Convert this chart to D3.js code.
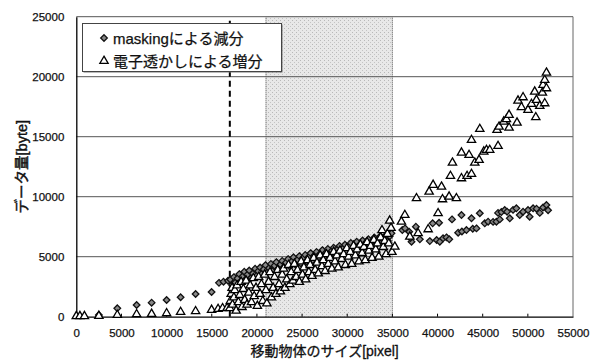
<!DOCTYPE html>
<html><head><meta charset="utf-8">
<script src="https://cdn.jsdelivr.net/npm/d3@7/dist/d3.min.js"></script>
<style>
html,body{margin:0;padding:0;background:#fff;}
svg text{font-family:"Liberation Sans","Noto Sans CJK JP",sans-serif;fill:#111;}
</style></head>
<body><svg id="c" width="591" height="362"></svg>
<script>
const xTicks = [0,5000,10000,15000,20000,25000,30000,35000,40000,45000,50000,55000];
const yTicks = [0,5000,10000,15000,20000,25000];
const seriesNames = ["maskingによる減分","電子透かしによる増分"];
const xTitle = "移動物体のサイズ[pixel]";
const yTitle = "データ量[byte]";
const dashedX = 17000;
const bandRange = [21000,35000];

// masking reduction (diamonds): size [pixel]
const maskingX = [2500,4540,6680,8340,10000,11550,13210,14980,15800,16300,16800,
17050,17250,17450,17600,17850,18050,18150,18400,18600,18750,18950,19150,19400,19550,19800,19950,
20150,20350,20500,20750,20950,21150,21350,21550,21700,21950,22150,22350,22600,22800,22950,
23200,23450,23600,23850,24050,24250,24500,24700,24850,25100,25350,25500,25750,25950,
26150,26400,26600,26750,27000,27250,27400,27650,27850,28050,28300,28500,28650,28900,
29150,29300,29550,29750,29950,30200,30400,30550,30800,31050,31200,31450,31700,31850,
32100,32350,32500,32750,33000,33150,33400,33650,33800,34050,34300,34500,34700,
34900,36100,36400,36860,37120,37000,37600,38040,39140,39460,39900,40170,40250,40610,40990,41300,41600,
42280,42650,42700,43200,43760,43900,44310,44680,45230,45600,46150,46520,46700,46890,47070,47440,47700,
48000,48360,48730,49100,49470,50020,50200,50580,50960,51320,51680,52060,52240];
// masking reduction (diamonds): bytes
const maskingY = [150,700,975,1170,1390,1620,1890,2060,2820,2920,3000,
3100,2650,3300,2850,3200,3550,2900,3350,3750,3100,3500,3850,3250,3600,4000,3400,
3800,4100,3550,3950,4300,3700,4050,4400,3800,4250,4550,3950,4350,4650,4100,
4500,4800,4200,4600,4950,4350,4750,5050,4450,4900,5150,4600,5000,5300,
4700,5150,5400,4850,5250,5550,4950,5350,5650,5050,5500,5750,5200,5600,
5900,5300,5700,6000,5400,5850,6150,5550,5950,6250,5650,6050,6350,5800,
6200,6450,5900,6300,6600,6000,6450,6700,6150,6550,6800,6300,6700,
6950,7220,7360,7080,6250,6560,7500,6450,6300,7780,6390,7830,6250,6530,6610,6450,8110,
7000,8470,7100,7220,8200,7330,7360,8620,7780,7920,7900,7920,8650,8110,8720,8890,8750,
8200,8900,9030,8470,8750,8890,8330,9030,9000,8650,9100,9310,8870];

// watermark increase (triangles): size [pixel]
const watermarkX = [0,400,900,2500,4540,6680,8340,10000,11550,13210,14980,15700,16200,16700,
17000,17050,17150,17250,17300,17450,17550,17700,17800,17950,18100,18250,18350,18500,18650,18800,
18900,19100,19250,19400,19600,19700,19900,20050,20200,20350,20500,20650,20850,21000,21100,21300,
21450,21600,21800,21950,22100,22300,22450,22600,22800,22950,23100,23300,23500,23650,23800,24000,
24150,24350,24500,24700,24900,25050,25200,25400,25600,25750,25900,26100,26300,26450,26650,26800,
27000,27200,27350,27550,27700,27900,28100,28300,28500,28650,28850,29000,29200,29400,29600,29800,
29950,30150,30350,30500,30700,30900,31100,31300,31450,31650,31850,32000,32200,32400,32600,32750,
32950,33150,33350,33500,33700,33850,34000,34150,34300,34450,34600,34700,34850,34950,
35270,36000,36380,36930,37850,37670,38960,39070,39510,40060,40440,40550,41280,42090,42650,
41430,41650,42650,43270,43760,43490,44120,44600,43760,44680,45120,45420,45780,46700,46590,46810,
47920,47330,47630,47920,48800,48910,49290,49470,50020,50400,50760,50880,50950,51320,51610,51680,
51870,51870,52060,52060];
// watermark increase (triangles): bytes
const watermarkY = [40,40,40,60,140,200,230,280,390,450,560,640,700,720,
700,1300,1900,2400,1000,1600,2200,500,2600,1200,1800,2900,800,2300,1400,3000,
1000,2000,2600,1200,3200,1700,2400,900,3300,1900,2700,1300,3500,2200,1100,2900,
3700,1600,2400,3300,1900,3900,2700,2100,3500,4000,2400,3100,4300,2700,3700,3000,
4400,3300,3900,2900,4600,3500,4100,3100,4700,3700,4300,3400,4900,3900,4500,3600,
5100,4200,4700,3800,5200,4400,4900,4000,5400,4600,5100,4100,5500,4800,5200,4300,
5700,5000,5400,4400,5900,5100,5600,4600,6000,5300,5800,4700,6200,5500,5900,4900,
6400,5600,6100,5000,6600,7200,5800,6300,5200,6900,6100,8000,7400,5400,
5830,7920,8470,6670,6950,9870,7280,10420,10980,8620,10830,9780,10000,9870,11530,
11720,12830,13670,11720,11890,13470,12830,13060,14720,15640,13750,13890,13890,14220,15560,15830,
15750,16250,16450,16810,16170,18000,17450,18280,17230,17720,18750,16620,18060,17560,18670,19310,
17780,19720,19030,20330];

const W = 591, H = 362;
const m = {l:76.3, r:573, t:16.7, b:316.7};
const svg = d3.select("#c");
const x = d3.scaleLinear().domain([0,55000]).range([m.l,m.r]);
const y = d3.scaleLinear().domain([0,25000]).range([m.b,m.t]);

// stipple pattern for the shaded band
const defs = svg.append("defs");
const pat = defs.append("pattern").attr("id","stip").attr("patternUnits","userSpaceOnUse")
  .attr("width",4).attr("height",4);
pat.append("rect").attr("width",4).attr("height",4).attr("fill","#e8e8e8");
pat.append("rect").attr("x",0).attr("y",0).attr("width",1).attr("height",1).attr("fill","#b8b8b8");
pat.append("rect").attr("x",2).attr("y",2).attr("width",1).attr("height",1).attr("fill","#c4c4c4");

svg.append("rect").attr("x",x(bandRange[0])).attr("y",y(25000))
  .attr("width",x(bandRange[1])-x(bandRange[0])).attr("height",y(0)-y(25000))
  .attr("fill","url(#stip)");
[bandRange[0],bandRange[1]].forEach(v=>{
  svg.append("line").attr("x1",x(v)).attr("x2",x(v)).attr("y1",y(0)).attr("y2",y(25000))
    .attr("stroke","#555").attr("stroke-width",1).attr("stroke-dasharray","1,1");
});

// gridlines
svg.append("g").selectAll("line").data(yTicks.filter(d=>d>0)).join("line")
  .attr("x1",m.l).attr("x2",m.r).attr("y1",d=>y(d)).attr("y2",d=>y(d))
  .attr("stroke","#555").attr("stroke-width",1);
svg.append("line").attr("x1",m.r).attr("x2",m.r).attr("y1",m.t).attr("y2",m.b)
  .attr("stroke","#666").attr("stroke-width",1);

// dashed line
svg.append("line").attr("x1",x(dashedX)).attr("x2",x(dashedX)).attr("y1",y(0)).attr("y2",y(25000))
  .attr("stroke","#000").attr("stroke-width",2).attr("stroke-dasharray","6,4");

// axes
const xAxis = d3.axisBottom(x).tickValues(xTicks).tickSize(0).tickPadding(12).tickFormat(d3.format("d"));
const gx = svg.append("g").attr("transform",`translate(0,${m.b})`).call(xAxis);
gx.select(".domain").attr("stroke","#000").attr("stroke-width",1.3);
gx.selectAll("text").attr("font-size","11.5px").attr("font-family","Liberation Sans, sans-serif")
  .attr("fill","#111").attr("stroke","#111").attr("stroke-width",0.25);
svg.append("g").selectAll("line").data(xTicks.slice(1,-1)).join("line")
  .attr("x1",d=>x(d)).attr("x2",d=>x(d)).attr("y1",m.b).attr("y2",m.b-3)
  .attr("stroke","#000");

const yAxis = d3.axisLeft(y).tickValues(yTicks).tickSize(0).tickPadding(12).tickFormat(d3.format("d"));
const gy = svg.append("g").attr("transform",`translate(${m.l},0)`).call(yAxis);
gy.select(".domain").attr("stroke","#000").attr("stroke-width",1.3);
gy.selectAll("text").attr("font-size","11.5px").attr("font-family","Liberation Sans, sans-serif")
  .attr("fill","#111").attr("stroke","#111").attr("stroke-width",0.25);

// titles
svg.append("text").attr("x",(m.l+m.r)/2).attr("y",356).attr("text-anchor","middle")
  .attr("font-size","14px").attr("stroke","#111").attr("stroke-width",0.3).text(xTitle);
svg.append("text").attr("transform",`translate(27,${(m.t+m.b)/2}) rotate(-90)`)
  .attr("text-anchor","middle").attr("font-size","14.5px").attr("stroke","#111").attr("stroke-width",0.4).text(yTitle);

// points
const tri = d3.symbol().type(d3.symbolTriangle).size(30);
const diamondPath = r => `M0,${-r}L${r},0L0,${r}L${-r},0Z`;
const mask = maskingX.map((v,i)=>[v,maskingY[i]]);
const wm = watermarkX.map((v,i)=>[v,watermarkY[i]]);
svg.append("g").selectAll("path").data(mask).join("path")
  .attr("d",diamondPath(3.3)).attr("transform",d=>`translate(${x(d[0])},${y(d[1])})`)
  .attr("fill","#888").attr("stroke","#111").attr("stroke-width",1.3);
svg.append("g").selectAll("path").data(wm).join("path")
  .attr("d",tri()).attr("transform",d=>`translate(${x(d[0])},${y(d[1])})`)
  .attr("fill","#fff").attr("stroke","#000").attr("stroke-width",1.3);

// legend
const lg = svg.append("g");
lg.append("rect").attr("x",83.5).attr("y",24.5).attr("width",199).attr("height",48).attr("fill","#777");
lg.append("rect").attr("x",82.5).attr("y",23.5).attr("width",199).attr("height",48)
  .attr("fill","#fff").attr("stroke","#444").attr("stroke-width",1);
lg.append("path").attr("d",diamondPath(3.3)).attr("transform","translate(104,38)")
  .attr("fill","#888").attr("stroke","#111").attr("stroke-width",1.3);
lg.append("path").attr("d",tri()).attr("transform","translate(104,61)")
  .attr("fill","#fff").attr("stroke","#000").attr("stroke-width",1.3);
lg.append("text").attr("x",113).attr("y",44).attr("font-size","15px").attr("stroke","#111").attr("stroke-width",0.25).text(seriesNames[0]);
lg.append("text").attr("x",113).attr("y",67).attr("font-size","15px").attr("stroke","#111").attr("stroke-width",0.25).text(seriesNames[1]);
</script></body></html>
